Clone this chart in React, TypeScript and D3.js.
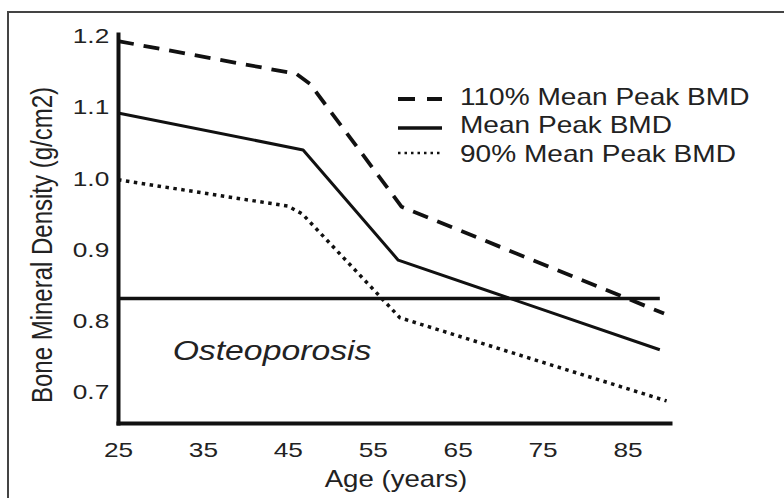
import React, { useEffect, useRef } from 'react';
import * as d3 from 'd3';

// values
const ageTicks = [25, 35, 45, 55, 65, 75, 85];
const bmdTicks = [0.7, 0.8, 0.9, 1.0, 1.1, 1.2];

const ages110 = [25, 46.0, 47.6, 58.4, 89.3];
const bmd110 = [1.193, 1.147, 1.133, 0.96, 0.81];
const agesMean = [25, 46.8, 58.0, 88.8];
const bmdMean = [1.092, 1.04, 0.885, 0.759];
const ages90 = [25, 45.0, 46.7, 58.2, 89.6];
const bmd90 = [0.998, 0.961, 0.95, 0.804, 0.687];
const thresholdAges = [25, 88.8];
const thresholdBmd = 0.831;

const seriesNames = ['110% Mean Peak BMD', 'Mean Peak BMD', '90% Mean Peak BMD'];

const W = 784;
const H = 498;
const FONT = "'Liberation Sans', Arial, sans-serif";
const SX = 1.25; // the scanned figure is stretched horizontally

const App = () => {
  const svgRef = useRef<SVGSVGElement>(null);

  useEffect(() => {
    const svg = d3.select(svgRef.current);
    svg.selectAll('*').remove();

    const x = d3.scaleLinear().domain([25, 90]).range([118, 670]);
    const y = d3.scaleLinear().domain([0.656, 1.203]).range([423, 34]);

    // outer frame (cut off at right and bottom)
    svg.append('rect')
      .attr('x', 8).attr('y', 12)
      .attr('width', 820).attr('height', 520)
      .attr('fill', '#fff')
      .attr('stroke', '#444')
      .attr('stroke-width', 2);

    const series = [
      { name: seriesNames[0], ages: ages110, bmd: bmd110, dash: '16,10', width: 3.8, legendDash: '17,12', legendWidth: 4 },
      { name: seriesNames[1], ages: agesMean, bmd: bmdMean, dash: null, width: 3, legendDash: null, legendWidth: 3.5 },
      { name: seriesNames[2], ages: ages90, bmd: bmd90, dash: '3.5,4.5', width: 3.5, legendDash: '2.5,4', legendWidth: 2.5 },
    ];

    const line = d3.line<[number, number]>()
      .x(d => x(d[0]))
      .y(d => y(d[1]));

    // osteoporosis threshold
    svg.append('line')
      .attr('x1', x(thresholdAges[0])).attr('x2', x(thresholdAges[1]))
      .attr('y1', y(thresholdBmd)).attr('y2', y(thresholdBmd))
      .attr('stroke', '#111')
      .attr('stroke-width', 3.5);

    series.forEach(s => {
      const pts = s.ages.map((a, i) => [a, s.bmd[i]] as [number, number]);
      svg.append('path')
        .attr('d', line(pts))
        .attr('fill', 'none')
        .attr('stroke', '#111')
        .attr('stroke-width', s.width)
        .attr('stroke-linejoin', 'round')
        .attr('stroke-dasharray', s.dash);
    });

    // axes
    const xAxis = svg.append('g')
      .attr('transform', `translate(0,${y.range()[0]})`)
      .call(d3.axisBottom(x).tickValues(ageTicks).tickSize(0).tickPadding(19).tickSizeOuter(0));
    const yAxis = svg.append('g')
      .attr('transform', `translate(${x.range()[0]},0)`)
      .call(d3.axisLeft(y).tickValues(bmdTicks).tickFormat(d3.format('.1f')).tickSize(0).tickPadding(7).tickSizeOuter(0));

    [xAxis, yAxis].forEach(ax => {
      ax.select('.domain')
        .attr('stroke', '#111')
        .attr('stroke-width', 4)
        .attr('stroke-linecap', 'square');
      ax.selectAll('text')
        .attr('font-family', FONT)
        .attr('font-size', 21)
        .attr('fill', '#222')
        .attr('transform', `scale(${SX},1)`);
    });
    xAxis.selectAll('.tick text').attr('x', 0);

    // axis titles
    svg.append('text')
      .attr('transform', `translate(396,487) scale(1.2,1)`)
      .attr('text-anchor', 'middle')
      .attr('font-family', FONT)
      .attr('font-size', 23)
      .attr('fill', '#222')
      .text('Age (years)');

    svg.append('text')
      .attr('transform', `translate(52,245) scale(1.2,1) rotate(-90)`)
      .attr('text-anchor', 'middle')
      .attr('font-family', FONT)
      .attr('font-size', 24)
      .attr('fill', '#222')
      .text('Bone Mineral Density (g/cm2)');

    svg.append('text')
      .attr('transform', `translate(272,360) scale(${SX},1)`)
      .attr('text-anchor', 'middle')
      .attr('font-family', FONT)
      .attr('font-style', 'italic')
      .attr('font-size', 27)
      .attr('fill', '#222')
      .text('Osteoporosis');

    // legend
    const legendY = [99, 128, 153];
    const legendBase = [105, 133, 162];
    const legend = svg.append('g');
    series.forEach((s, i) => {
      legend.append('line')
        .attr('x1', 398).attr('x2', 442)
        .attr('y1', legendY[i]).attr('y2', legendY[i])
        .attr('stroke', '#111')
        .attr('stroke-width', s.legendWidth)
        .attr('stroke-dasharray', s.legendDash);
      legend.append('text')
        .attr('transform', `translate(460,${legendBase[i]}) scale(1.22,1)`)
        .attr('font-family', FONT)
        .attr('font-size', 23)
        .attr('fill', '#222')
        .text(s.name);
    });
  }, []);

  return (
    <div style={{ position: 'absolute', left: 0, top: 0, width: W, height: H, background: '#fff', overflow: 'hidden' }}>
      <svg ref={svgRef} width={W} height={H} style={{ display: 'block' }} />
    </div>
  );
};

export default App;
